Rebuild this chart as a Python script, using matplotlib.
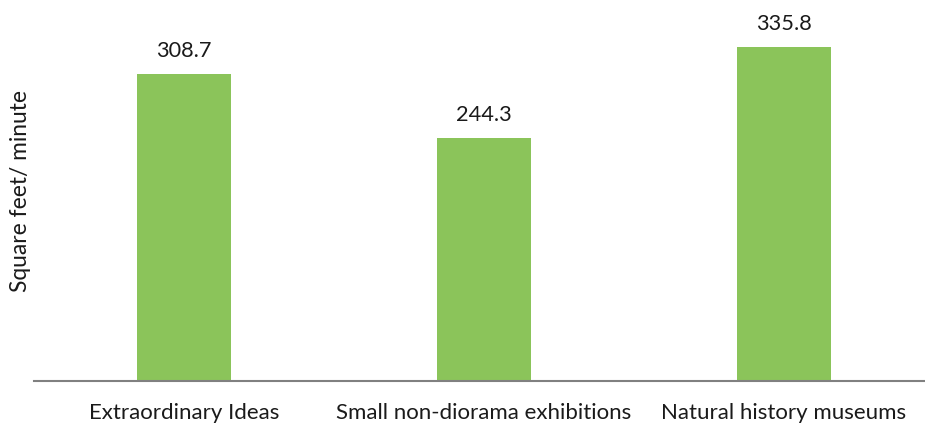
import matplotlib.pyplot as plt

categories = ["Extraordinary Ideas", "Small non-diorama exhibitions", "Natural history museums"]
values = [308.7, 244.3, 335.8]

plt.rcParams['font.family'] = ['Lato', 'DejaVu Sans']

fig = plt.figure(figsize=(9.25, 4.26), dpi=100)
ax = fig.add_axes([34 / 925, 45 / 426, 891 / 925, 381 / 426])

x = list(range(len(categories)))
bars = ax.bar(x, values, width=0.313, color="#8BC45A", zorder=2)

for xi, v in zip(x, values):
    ax.annotate(f"{v:.1f}", (xi, v), xytext=(0, 12.5), textcoords="offset points",
                ha="center", va="baseline", fontsize=15.7, color="#1a1a1a")

ax.set_xlim(-0.5, -0.5 + 891 / 300)
ax.set_ylim(0, 383)
ax.set_xticks(x)
ax.set_xticklabels(categories, fontsize=16, color="#1a1a1a")
ax.tick_params(axis="x", length=0, pad=16)
ax.set_yticks([])

for side in ["top", "right", "left"]:
    ax.spines[side].set_visible(False)
ax.spines["bottom"].set_color("#808080")
ax.spines["bottom"].set_linewidth(1.5)

ax.set_ylabel("Square feet/ minute", fontsize=16.4, color="#1a1a1a")
ax.yaxis.set_label_coords(-0.003, 0.5)

fig.savefig("out.png", dpi=100)
